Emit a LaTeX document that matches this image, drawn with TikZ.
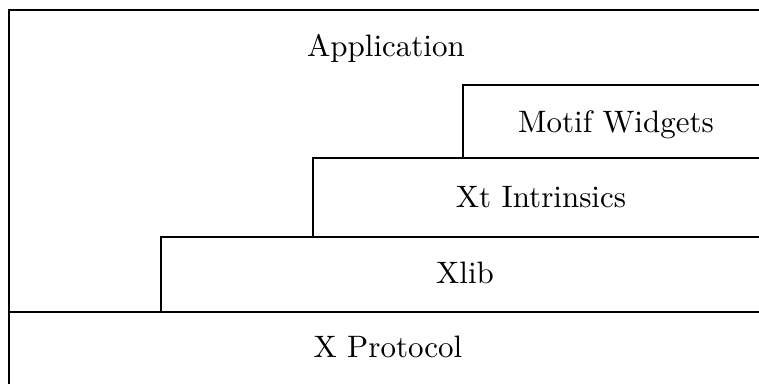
\documentclass[tikz,border=0pt]{standalone}
\usepackage{fontspec}
\newfontfamily\lmten{lmroman10-regular.otf}
\begin{document}
\begin{tikzpicture}[x=1pt,y=-1pt,
  layer/.style={line width=2pt,line cap=rect},
  lbl/.style={font=\lmten\fontsize{31}{33}\selectfont,inner sep=0pt,anchor=base}]
\useasboundingbox (0,0) rectangle (759,383);
% frame
\draw[layer] (9,383) -- (9,10) -- (759,10);
% Motif Widgets box
\draw[layer] (759,85) -- (463,85) -- (463,158);
% Xt Intrinsics box
\draw[layer] (759,158) -- (313,158) -- (313,237);
% Xlib box
\draw[layer] (759,237) -- (161,237) -- (161,312);
% X Protocol
\draw[layer] (9,312) -- (759,312);
\node[lbl] (app) at (386,56) {Application};
\node[lbl] (motif) at (616,132) {Motif Widgets};
\node[lbl] (xt) at (541,207) {Xt Intrinsics};
\node[lbl] (xlib) at (465,283) {Xlib};
\node[lbl] (xp) at (388,357) {X Protocol};
\end{tikzpicture}
\end{document}
